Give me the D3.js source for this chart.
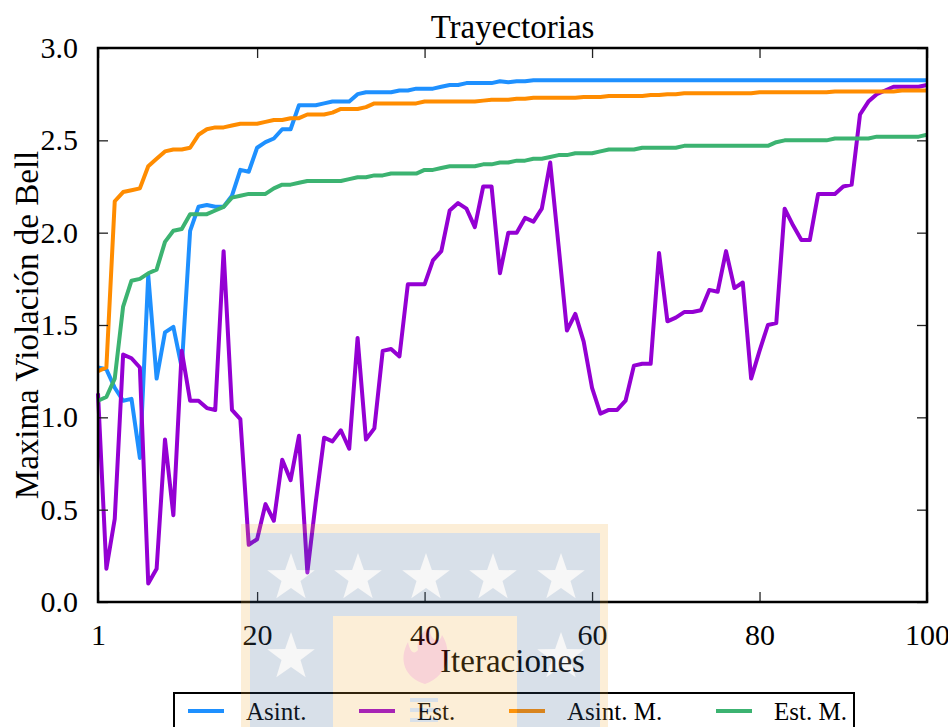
<!DOCTYPE html>
<html>
<head>
<meta charset="utf-8">
<script src="https://cdn.jsdelivr.net/npm/d3@7"></script>
<style>
  body { margin: 0; background: #fff; }
  text { font-family: "Liberation Serif", "Times New Roman", serif; fill: #000; }
</style>
</head>
<body>
<div id="chart"></div>
<script>
// iteration numbers on the x axis
var iterations = d3.range(1, 101);

// series values, one per iteration
var asint = [
  1.27, 1.26, 1.16, 1.09, 1.10, 0.78, 1.77, 1.21, 1.46, 1.49, 1.27, 2.01, 2.14, 2.15, 2.14, 2.14, 2.20, 2.34, 2.33, 2.46, 2.49, 2.51, 2.56, 2.56, 2.69,
  2.69, 2.69, 2.70, 2.71, 2.71, 2.71, 2.75, 2.76, 2.76, 2.76, 2.76, 2.77, 2.77, 2.78, 2.78, 2.78, 2.79, 2.80, 2.80, 2.81, 2.81, 2.81, 2.81, 2.82,
  2.815, 2.82, 2.82, 2.825, 2.825, 2.825, 2.825, 2.825, 2.825, 2.825, 2.825, 2.825, 2.825, 2.825, 2.825, 2.825, 2.825, 2.825, 2.825, 2.825, 2.825, 2.825, 2.825, 2.825, 2.825,
  2.825, 2.825, 2.825, 2.825, 2.825, 2.825, 2.825, 2.825, 2.825, 2.825, 2.825, 2.825, 2.825, 2.825, 2.825, 2.825, 2.825, 2.825, 2.825, 2.825, 2.825, 2.825, 2.825, 2.825, 2.825, 2.825
];

var est = [
  1.13, 0.18, 0.45, 1.34, 1.32, 1.27, 0.10, 0.18, 0.88, 0.47, 1.36, 1.09, 1.09, 1.05, 1.04, 1.90, 1.04, 0.99, 0.31, 0.34, 0.53, 0.44, 0.77, 0.66, 0.90,
  0.16, 0.54, 0.89, 0.87, 0.93, 0.83, 1.43, 0.88, 0.94, 1.36, 1.37, 1.33, 1.72, 1.72, 1.72, 1.85, 1.90, 2.12, 2.16, 2.13, 2.03, 2.25, 2.25, 1.78,
  2.00, 2.00, 2.08, 2.06, 2.13, 2.38, 1.93, 1.47, 1.56, 1.41, 1.16, 1.02, 1.04, 1.04, 1.09, 1.28, 1.29, 1.29, 1.89, 1.52, 1.54, 1.57, 1.57, 1.58, 1.69,
  1.68, 1.90, 1.70, 1.73, 1.21, 1.36, 1.50, 1.51, 2.13, 2.04, 1.96, 1.96, 2.21, 2.21, 2.21, 2.25, 2.26, 2.64, 2.71, 2.75, 2.77, 2.79, 2.79, 2.79, 2.79, 2.80
];

var asintM = [
  1.25, 1.27, 2.17, 2.22, 2.23, 2.24, 2.36, 2.40, 2.44, 2.45, 2.45, 2.46, 2.53, 2.56, 2.57, 2.57, 2.58, 2.59, 2.59, 2.59, 2.60, 2.61, 2.61, 2.62, 2.62,
  2.64, 2.64, 2.64, 2.65, 2.67, 2.67, 2.67, 2.68, 2.70, 2.70, 2.70, 2.70, 2.70, 2.70, 2.71, 2.71, 2.71, 2.71, 2.71, 2.71, 2.71, 2.715, 2.72, 2.72,
  2.72, 2.725, 2.725, 2.73, 2.73, 2.73, 2.73, 2.73, 2.73, 2.735, 2.735, 2.735, 2.74, 2.74, 2.74, 2.74, 2.74, 2.745, 2.745, 2.75, 2.75, 2.755, 2.755, 2.755, 2.755,
  2.755, 2.755, 2.755, 2.755, 2.755, 2.76, 2.76, 2.76, 2.76, 2.76, 2.76, 2.76, 2.76, 2.76, 2.765, 2.765, 2.765, 2.765, 2.765, 2.765, 2.765, 2.765, 2.77, 2.77, 2.77, 2.77
];

var estM = [
  1.09, 1.11, 1.21, 1.60, 1.74, 1.75, 1.78, 1.80, 1.95, 2.01, 2.02, 2.10, 2.10, 2.10, 2.12, 2.14, 2.19, 2.20, 2.21, 2.21, 2.21, 2.24, 2.26, 2.26, 2.27,
  2.28, 2.28, 2.28, 2.28, 2.28, 2.29, 2.30, 2.30, 2.31, 2.31, 2.32, 2.32, 2.32, 2.32, 2.34, 2.34, 2.35, 2.36, 2.36, 2.36, 2.36, 2.37, 2.37, 2.38,
  2.38, 2.39, 2.39, 2.40, 2.40, 2.41, 2.42, 2.42, 2.43, 2.43, 2.43, 2.44, 2.45, 2.45, 2.45, 2.45, 2.46, 2.46, 2.46, 2.46, 2.46, 2.47, 2.47, 2.47, 2.47,
  2.47, 2.47, 2.47, 2.47, 2.47, 2.47, 2.47, 2.49, 2.50, 2.50, 2.50, 2.50, 2.50, 2.50, 2.51, 2.51, 2.51, 2.51, 2.51, 2.52, 2.52, 2.52, 2.52, 2.52, 2.52, 2.53
];

var seriesNames = ["Asint.", "Est.", "Asint. M.", "Est. M."];
var seriesColors = ["#1e90ff", "#9400d3", "#ff8c00", "#3cb371"];
var xTicks = [1, 20, 40, 60, 80, 100];
var yTicks = [0, 0.5, 1.0, 1.5, 2.0, 2.5, 3.0];

var series = [asint, est, asintM, estM].map(function (vals, k) {
  return {
    name: seriesNames[k],
    color: seriesColors[k],
    values: vals.map(function (v, i) { return { it: iterations[i], v: v }; })
  };
});

// set the dimensions and margins of the graph
var margin = { top: 48, right: 21, bottom: 125, left: 98 },
    width = 948 - margin.left - margin.right,
    height = 727 - margin.top - margin.bottom;

var root = d3.select("#chart")
  .append("svg")
  .attr("width", 948)
  .attr("height", 727);

var svg = root.append("g")
  .attr("transform", "translate(" + margin.left + "," + margin.top + ")");

var x = d3.scaleLinear().domain([1, 100]).range([0, width]);
var y = d3.scaleLinear().domain([0, 3]).range([height, 0]);

// lines
var line = d3.line()
  .x(function (d) { return x(d.it); })
  .y(function (d) { return y(d.v); });

svg.selectAll(".serie")
  .data(series)
  .enter()
  .append("path")
  .attr("class", "serie")
  .attr("d", function (d) { return line(d.values); })
  .attr("fill", "none")
  .attr("stroke", function (d) { return d.color; })
  .attr("stroke-width", 4)
  .attr("stroke-linejoin", "round");

// axes, ticks pointing inward like the original
function styleAxis(g) {
  g.select(".domain").remove();
  g.selectAll(".tick line").attr("stroke", "#222").attr("stroke-width", 1.3);
  g.selectAll(".tick text")
    .style("font-family", '"Liberation Serif", serif')
    .style("font-size", "30px")
    .attr("fill", "#000");
}

svg.append("g")
  .attr("transform", "translate(0," + height + ")")
  .call(d3.axisBottom(x).tickValues(xTicks).tickFormat(d3.format("d")).tickSize(-10).tickPadding(22))
  .call(styleAxis);

svg.append("g")
  .call(d3.axisTop(x).tickValues(xTicks).tickFormat("").tickSize(-10))
  .call(styleAxis);

svg.append("g")
  .call(d3.axisLeft(y).tickValues(yTicks).tickFormat(d3.format(".1f")).tickSize(-10).tickPadding(20))
  .call(styleAxis);

svg.append("g")
  .attr("transform", "translate(" + width + ",0)")
  .call(d3.axisRight(y).tickValues(yTicks).tickFormat("").tickSize(-10))
  .call(styleAxis);

// frame
svg.append("rect")
  .attr("width", width)
  .attr("height", height)
  .attr("fill", "none")
  .attr("stroke", "#000")
  .attr("stroke-width", 2.5);

// titles
root.append("text")
  .attr("x", margin.left + width / 2)
  .attr("y", 38)
  .attr("text-anchor", "middle")
  .style("font-size", "33px")
  .text("Trayectorias");

root.append("text")
  .attr("x", margin.left + width / 2)
  .attr("y", 672)
  .attr("text-anchor", "middle")
  .style("font-size", "33px")
  .text("Iteraciones");

root.append("text")
  .attr("transform", "translate(38," + (margin.top + height / 2) + ") rotate(-90)")
  .attr("text-anchor", "middle")
  .style("font-size", "33px")
  .text("Maxima Violación de Bell");

// legend
var legend = root.append("g").attr("transform", "translate(174,693)");
legend.append("rect")
  .attr("width", 680)
  .attr("height", 50)
  .attr("fill", "#fff")
  .attr("stroke", "#000")
  .attr("stroke-width", 2);

var legendX = [14, 185, 335, 542];
var item = legend.selectAll(".item")
  .data(series)
  .enter()
  .append("g")
  .attr("class", "item")
  .attr("transform", function (d, i) { return "translate(" + legendX[i] + ",18)"; });

item.append("line")
  .attr("x1", 0).attr("x2", 36)
  .attr("stroke", function (d) { return d.color; })
  .attr("stroke-width", 4);

item.append("text")
  .attr("x", 58)
  .attr("y", 9)
  .style("font-size", "25px")
  .text(function (d) { return d.name; });

// faint university watermark laid over the bottom of the figure
var wm = root.append("g").attr("opacity", 0.2);
wm.append("rect").attr("x", 241).attr("y", 524).attr("width", 367).attr("height", 210).attr("fill", "#f5af3c");
wm.append("rect").attr("x", 250).attr("y", 533).attr("width", 350).attr("height", 200).attr("fill", "#416996");
wm.append("rect").attr("x", 333).attr("y", 616).attr("width", 184).attr("height", 120).attr("fill", "#f5af3c");

function starPath(cx, cy, r) {
  var pts = [];
  for (var k = 0; k < 10; k++) {
    var rr = k % 2 === 0 ? r : r * 0.4;
    var a = -Math.PI / 2 + k * Math.PI / 5;
    pts.push([cx + rr * Math.cos(a), cy + rr * Math.sin(a)]);
  }
  return "M" + pts.join("L") + "Z";
}
var stars = [[291, 578], [358, 578], [426, 578], [493, 578], [561, 578], [291, 657], [561, 657]];
wm.selectAll(".star")
  .data(stars)
  .enter()
  .append("path")
  .attr("d", function (d) { return starPath(d[0], d[1], 25); })
  .attr("fill", "#d8d8d8");

wm.append("path")
  .attr("d", "M425,684 C405,678 398,660 408,642 C410,652 414,655 418,650 C416,640 422,632 430,626 C428,640 440,645 442,635 C452,650 450,675 425,684 Z")
  .attr("fill", "#e0283c");
wm.selectAll(".stripe")
  .data([698, 708, 718])
  .enter()
  .append("rect")
  .attr("x", 410).attr("y", function (d) { return d; })
  .attr("width", 28).attr("height", 4)
  .attr("fill", "#416996");
</script>
</body>
</html>
